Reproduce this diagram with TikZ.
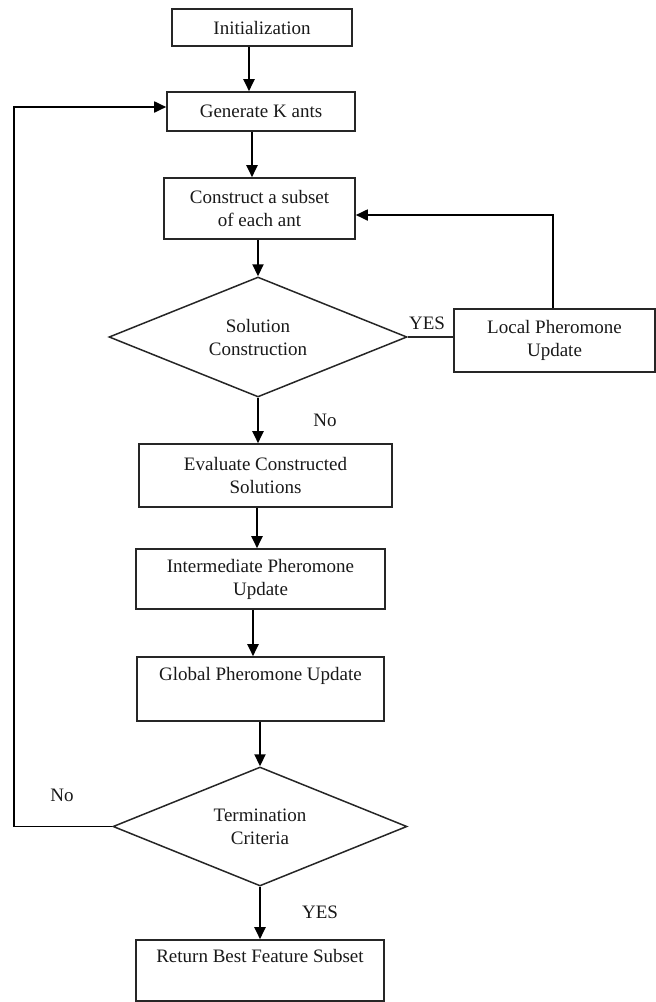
\documentclass[tikz,border=0pt]{standalone}
\usepackage{fontspec}
\setmainfont{Liberation Serif}
\usetikzlibrary{shapes.geometric,arrows.meta}
\tikzset{
  box/.style={draw=black!85, line width=1.6pt, rectangle, inner sep=0pt, align=center,
    font=\fontsize{19pt}{23pt}\selectfont, text=black!90},
  dia/.style={draw=black!85, line width=1.5pt, diamond, aspect=2.5, inner sep=0pt, align=center,
    font=\fontsize{19pt}{23pt}\selectfont, text=black!90},
  arr/.style={line width=2.2pt, draw=black, -{Triangle[width=11pt,length=12pt]}},
  farr/.style={line width=1.8pt, draw=black, -{Triangle[width=11pt,length=12pt]}},
  plain/.style={line width=1.4pt, draw=black!85},
  lbl/.style={font=\fontsize{19pt}{23pt}\selectfont, text=black!90, inner sep=0pt},
}
\begin{document}
\begin{tikzpicture}[x=1pt,y=-1pt]
\useasboundingbox (0,0) rectangle (656,1002);
\node[box, minimum width=180pt, minimum height=37pt] (init) at (262,27.5) {Initialization};
\node[box, minimum width=188pt, minimum height=39pt] (gen) at (261,111.5) {Generate K ants};
\node[box, minimum width=191pt, minimum height=61pt] (cons) at (259.5,208.5) {Construct a subset\\of each ant};
\node[dia, minimum width=298pt, minimum height=120pt] (sol) at (258,337) {Solution\\Construction};
\node[box, minimum width=201pt, minimum height=63pt] (local) at (554.5,340.5) {Local Pheromone\\Update};
\node[box, minimum width=253pt, minimum height=63pt] (eval) at (265.5,475.5) {Evaluate Constructed\\Solutions};
\node[box, minimum width=249pt, minimum height=60pt] (inter) at (260.5,579) {Intermediate Pheromone\\Update};
\node[box, minimum width=247pt, minimum height=64pt] (glob) at (260.5,689) {Global Pheromone Update\\\strut};
\node[dia, minimum width=294pt, minimum height=119pt] (term) at (260,826.5) {Termination\\Criteria};
\node[box, minimum width=248pt, minimum height=61pt] (ret) at (260,970.5) {Return Best Feature Subset\\\strut};

\node[lbl] (yes1) at (427,323) {YES};
\node[lbl] (no1) at (325,420) {No};
\node[lbl] (no2) at (62,795) {No};
\node[lbl] (yes2) at (320,912) {YES};

\draw[arr] (init.south -| 249,0) -- (gen.north -| 249,0);
\draw[arr] (gen.south -| 252,0) -- (cons.north -| 252,0);
\draw[arr] (cons.south -| sol.north) -- (sol.north);
\draw[arr] (sol.south) -- (sol.south |- eval.north);
\draw[arr] (eval.south -| 257,0) -- (inter.north -| 257,0);
\draw[arr] (inter.south -| 253,0) -- (glob.north -| 253,0);
\draw[arr] (glob.south -| term.north) -- (term.north);
\draw[arr] (term.south) -- (term.south |- ret.north);

\draw[plain] (sol.east) -- (sol.east -| local.west);

\coordinate (fb) at (553,215);
\draw[farr] (local.north -| fb) -- (fb) -- (fb -| cons.east);

\coordinate (lp) at (14,107);
\draw[farr] (term.west) -| (lp) -- (lp -| gen.west);
\end{tikzpicture}
\end{document}
